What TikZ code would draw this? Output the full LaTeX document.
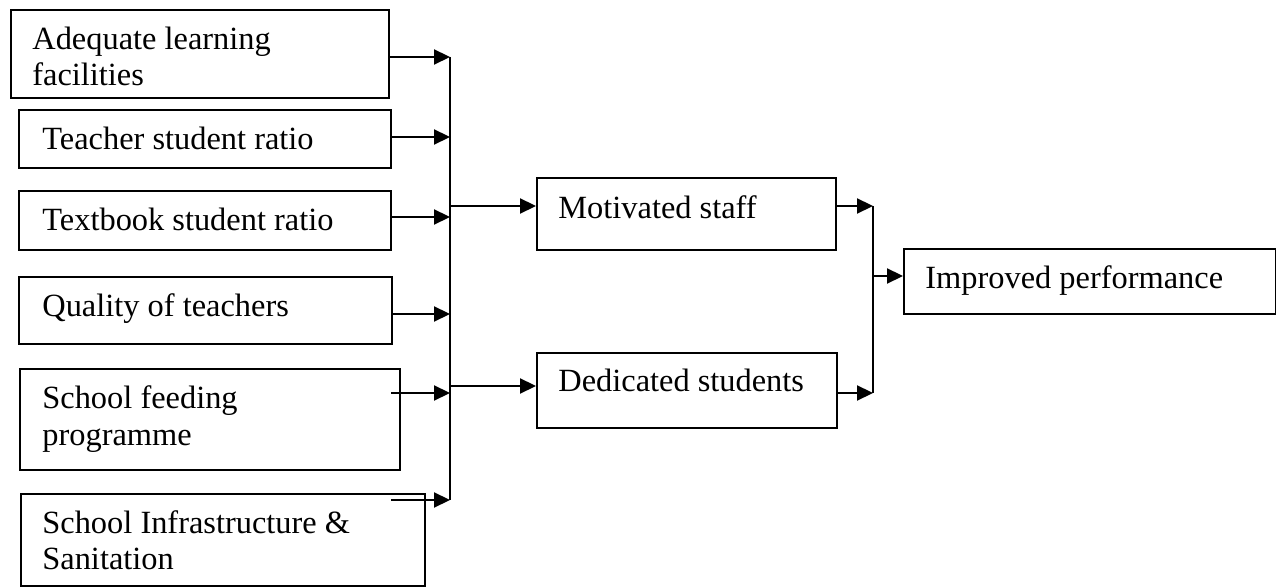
\documentclass[tikz,border=0pt]{standalone}
\usepackage{fontspec}
\setmainfont{Liberation Serif}
\usetikzlibrary{arrows.meta}
\begin{document}
\begin{tikzpicture}[x=0.5pt,y=-0.5pt,
  box/.style={draw, line width=1.1pt},
  lbl/.style={anchor=base west, inner sep=0pt, font=\fontsize{16.2}{18}\selectfont, align=left},
  conn/.style={line width=1.1pt, -{Triangle[length=8pt,width=7.5pt]}},
  busline/.style={line width=1.1pt}]
\useasboundingbox (0,0) rectangle (1276,588);
% left boxes
\draw[box] (11,10) rectangle (389,98);
\node[lbl] (t1) at (32,86) {Adequate learning\\facilities};
\draw[box] (19,110) rectangle (391,168);
\node[lbl] (t2) at (42,150) {Teacher student ratio};
\draw[box] (19,191) rectangle (391,250);
\node[lbl] (t3) at (42,231) {Textbook student ratio};
\draw[box] (19,277) rectangle (392,344);
\node[lbl] (t4) at (42,317) {Quality of teachers};
\draw[box] (20,369) rectangle (400,470);
\node[lbl] (t5) at (42,445) {School feeding\\programme};
\draw[box] (21,494) rectangle (425,586);
\node[lbl] (t6) at (42,569) {School Infrastructure \&\\Sanitation};
% bus 1
\coordinate (bus1top) at (450,57);
\coordinate (bus1bot) at (450,500);
\draw[busline] (bus1top) -- (bus1bot);
\coordinate (o1) at (389,57);
\coordinate (o2) at (391,137);
\coordinate (o3) at (391,217);
\coordinate (o4) at (392,314);
\coordinate (o5) at (391,393);
\coordinate (o6) at (391,500);
\draw[conn] (o1) -- (o1 -| bus1top);
\draw[conn] (o2) -- (o2 -| bus1top);
\draw[conn] (o3) -- (o3 -| bus1top);
\draw[conn] (o4) -- (o4 -| bus1top);
\draw[conn] (o5) -- (o5 -| bus1top);
\draw[conn] (o6) -- (o6 -| bus1top);
% middle boxes
\node[box, anchor=north west, minimum width=149.5pt, minimum height=36pt, inner sep=0pt] (mot) at (536,177) {};
\node[lbl] (tm) at (558,219) {Motivated staff};
\node[box, anchor=north west, minimum width=150pt, minimum height=37.5pt, inner sep=0pt] (ded) at (536,352) {};
\node[lbl] (td) at (558,392) {Dedicated students};
\draw[conn] (450,206) -- (mot.west |- 0,206);
\draw[conn] (450,386) -- (ded.west |- 0,386);
% bus 2
\coordinate (bus2top) at (873,206);
\coordinate (bus2bot) at (873,393);
\draw[busline] (bus2top) -- (bus2bot);
\draw[conn] (mot.east |- bus2top) -- (bus2top);
\draw[conn] (ded.east |- bus2bot) -- (bus2bot);
% right box
\node[box, anchor=north west, minimum width=186pt, minimum height=32.5pt, inner sep=0pt] (imp) at (903,248) {};
\node[lbl] (ti) at (925,289) {Improved performance};
\draw[conn] (873,276) -- (imp.west |- 0,276);
\end{tikzpicture}
\end{document}
